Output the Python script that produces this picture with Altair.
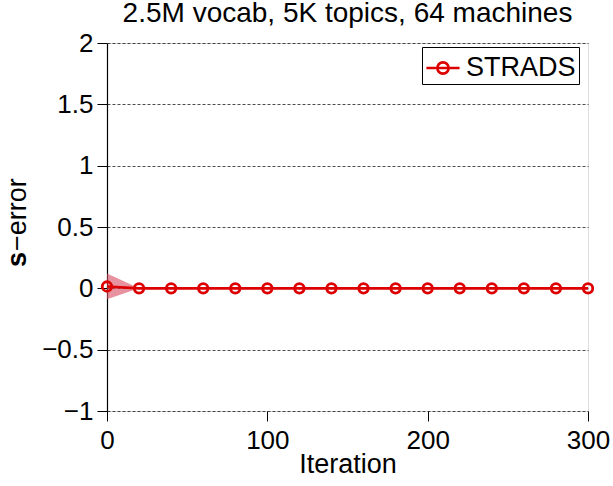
import altair as alt
import pandas as pd

iterations = [0, 20, 40, 60, 80, 100, 120, 140, 160, 180, 200, 220, 240, 260, 280, 300]
s_error = [0.015, 0, 0, 0, 0, 0, 0, 0, 0, 0, 0, 0, 0, 0, 0, 0]
band_x = [0, 20]
band_low = [-0.09, 0.0]
band_high = [0.12, 0.0]

df = pd.DataFrame({"Iteration": iterations, "s_error": s_error, "series": ["STRADS"] * len(iterations)})
bdf = pd.DataFrame({"Iteration": band_x, "low": band_low, "high": band_high})
ylab = pd.DataFrame({"part": ["s", "−error"]})

RED = "#dd0000"
FONT = "Liberation Sans"

xscale = alt.Scale(domain=[0, 300], nice=False)
yscale = alt.Scale(domain=[-1, 2], nice=False)

xaxis = alt.Axis(values=[0, 100, 200, 300], title="Iteration", grid=False, domain=False,
                 tickSize=10, tickColor="black", labelFontSize=26, labelColor="black",
                 labelFont=FONT, titleFont=FONT, titleFontSize=27, titleFontWeight="normal",
                 titleColor="black", titlePadding=-2, labelPadding=6, labelFlush=False)
yaxis = alt.Axis(values=[-1, -0.5, 0, 0.5, 1, 1.5, 2], title=None, grid=True, format="~g",
                 gridDash=[3, 2], gridColor="black", gridWidth=0.7, gridOpacity=1,
                 domainColor="black", domainWidth=1.2, tickSize=10, tickColor="black",
                 labelFontSize=26, labelColor="black", labelFont=FONT, labelPadding=4,
                 labelFlush=False,
                 labelExpr="replace(datum.label, '-', '\u2212')")

band = alt.Chart(bdf).mark_area(color="#d9485f", opacity=0.6).encode(
    x=alt.X("Iteration:Q", scale=xscale, axis=xaxis),
    y=alt.Y("low:Q", scale=yscale, axis=yaxis),
    y2="high:Q",
)

line = alt.Chart(df).mark_line(strokeWidth=2.6, clip=False).encode(
    x=alt.X("Iteration:Q", scale=xscale),
    y=alt.Y("s_error:Q", scale=yscale),
    color=alt.Color("series:N", scale=alt.Scale(domain=["STRADS"], range=[RED]),
                    legend=alt.Legend(
                        title=None, orient="none", legendX=315, legendY=4,
                        symbolType="M-1,0H-0.34M0.34,0H1M-0.34,0A0.34,0.34 0 1,1 0.34,0A0.34,0.34 0 1,1 -0.34,0M-0.34,0H0.34",
                        symbolSize=1100, symbolStrokeWidth=2.6, symbolFillColor="transparent",
                        labelFontSize=27, labelFont=FONT, labelColor="black",
                        strokeColor="black", fillColor="white", padding=3,
                        labelOffset=5, rowPadding=0)),
)

points = alt.Chart(df).mark_point(shape="circle", filled=False, size=90, strokeWidth=2.8,
                                   color=RED, opacity=1, clip=False).encode(
    x=alt.X("Iteration:Q", scale=xscale),
    y=alt.Y("s_error:Q", scale=yscale),
)

ytitle_s = alt.Chart(ylab).transform_filter("datum.part == 's'").mark_text(
    angle=270, align="left", baseline="middle", font=FONT, fontSize=27, fontWeight="bold",
    color="black").encode(text="part:N", x=alt.value(-89), y=alt.value(224))
ytitle_rest = alt.Chart(ylab).transform_filter("datum.part != 's'").mark_text(
    angle=270, align="left", baseline="middle", font=FONT, fontSize=27, fontWeight="normal",
    color="black").encode(text="part:N", x=alt.value(-89), y=alt.value(208))

chart = alt.layer(band, line, points, ytitle_s, ytitle_rest).properties(
    width=481, height=368,
    title=alt.TitleParams("2.5M vocab, 5K topics, 64 machines", fontSize=28, font=FONT,
                          fontWeight="normal", color="black", offset=2),
    padding={"left": 107, "top": 43, "right": 25, "bottom": 75},
    autosize=alt.AutoSizeParams(type="none"),
).configure_view(stroke=None).configure(background="white")

chart.save("out.html", embed_options={"renderer": "svg", "actions": False})
